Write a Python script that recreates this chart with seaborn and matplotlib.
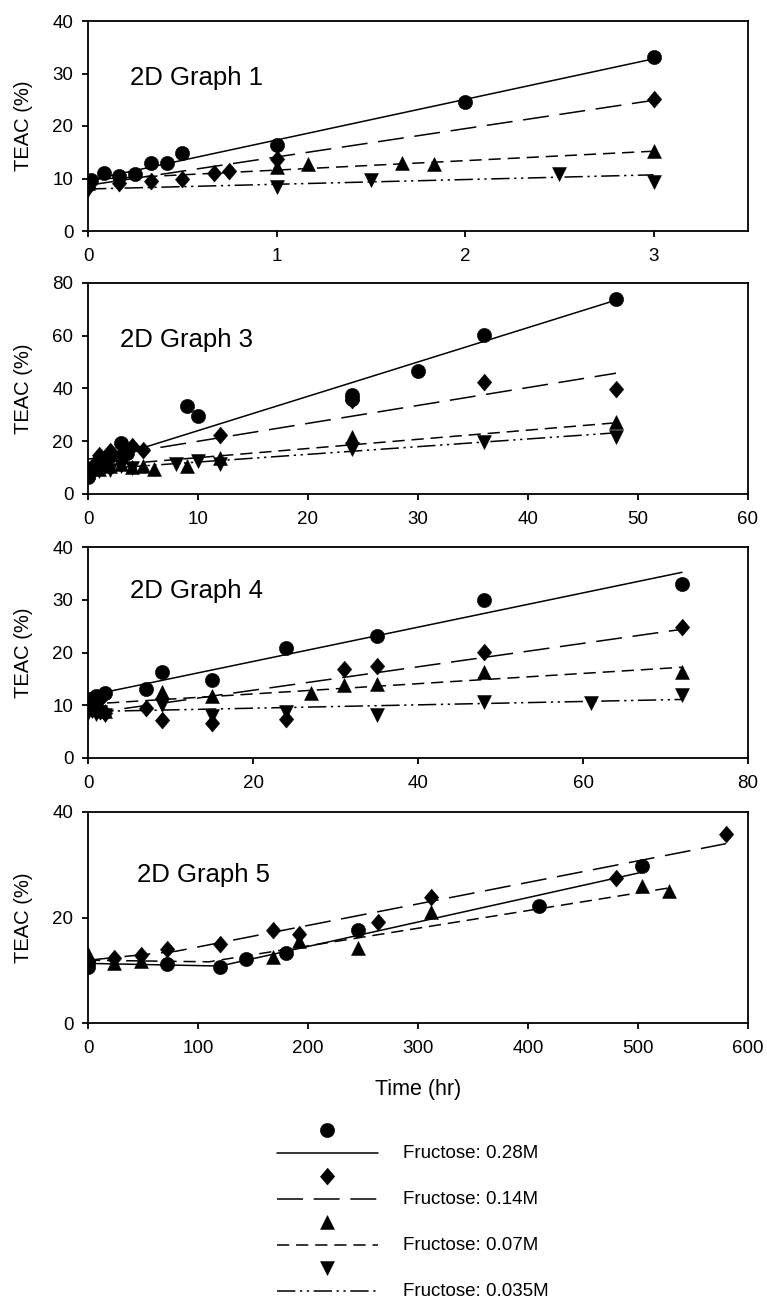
import matplotlib
matplotlib.use("Agg")
import matplotlib.pyplot as plt
import seaborn as sns

# =============================================================================
# data
# =============================================================================
# 2D Graph 1
g1_t_028 = [0, 0.0167, 0.083, 0.167, 0.25, 0.333, 0.417, 0.5, 1, 2, 3]
g1_v_028 = [8.9, 9.8, 11.0, 10.5, 10.9, 12.9, 12.9, 14.8, 16.4, 24.5, 33.2]
g1_t_014 = [0, 0.167, 0.333, 0.5, 0.667, 0.75, 1, 3]
g1_v_014 = [8.4, 9.2, 9.5, 9.9, 11.0, 11.5, 13.7, 25.2]
g1_t_007 = [0, 1, 1.167, 1.667, 1.833, 3]
g1_v_007 = [9.2, 12.1, 12.7, 13.0, 12.8, 15.3]
g1_t_0035 = [0, 0.167, 1, 1.5, 2.5, 3]
g1_v_0035 = [7.8, 8.9, 8.3, 9.7, 10.9, 9.4]
g1_fit_x = [0, 3]
g1_fit_028 = [9.6, 32.8]
g1_fit_014 = [8.7, 24.9]
g1_fit_007 = [9.8, 15.2]
g1_fit_0035 = [8.0, 10.7]

# 2D Graph 3
g3_t_028 = [0, 0.5, 1, 1.5, 2, 3, 3.5, 9, 10, 24, 24, 30, 36, 48]
g3_v_028 = [6.5, 9.5, 10.5, 12.0, 14.5, 19.3, 15.5, 33.2, 29.6, 37.5, 36.2, 46.5, 60.3, 74.0]
g3_t_014 = [0, 0.5, 1, 2, 3, 4, 5, 12, 24, 36, 48]
g3_v_014 = [9.5, 11.5, 14.8, 16.2, 15.0, 18.3, 16.8, 22.4, 35.5, 42.3, 39.8]
g3_t_007 = [0, 1, 2, 3, 4, 5, 6, 9, 12, 24, 48]
g3_v_007 = [8.5, 9.5, 10.5, 11.5, 10.3, 10.6, 9.3, 10.7, 13.6, 21.6, 27.2]
g3_t_0035 = [0, 1, 2, 3, 4, 8, 10, 12, 24, 36, 48]
g3_v_0035 = [8.2, 8.8, 9.0, 10.8, 9.9, 11.2, 12.6, 11.4, 17.0, 19.9, 21.8]
g3_fit_x = [0, 48]
g3_fit_028 = [11.0, 73.5]
g3_fit_014 = [13.2, 45.8]
g3_fit_007 = [10.3, 27.0]
g3_fit_0035 = [9.2, 23.2]

# 2D Graph 4
g4_t_028 = [0, 0.5, 1, 1.5, 2, 7, 9, 15, 24, 35, 48, 72]
g4_v_028 = [11.2, 10.5, 11.8, 11.5, 12.4, 13.1, 16.3, 14.8, 20.8, 23.2, 29.9, 33.0]
g4_t_014 = [0, 0.5, 1, 1.5, 2, 7, 9, 15, 24, 31, 35, 48, 72]
g4_v_014 = [9.8, 9.2, 10.2, 9.0, 8.5, 9.4, 7.2, 6.6, 7.4, 16.9, 17.4, 20.1, 24.9]
g4_t_007 = [0, 0.5, 1, 1.5, 2, 9, 15, 27, 31, 35, 48, 72]
g4_v_007 = [10.3, 9.8, 10.8, 9.5, 9.0, 12.6, 11.7, 12.3, 13.8, 14.0, 16.3, 16.3]
g4_t_0035 = [0, 0.5, 1, 1.5, 2, 9, 15, 24, 35, 48, 61, 72]
g4_v_0035 = [8.5, 9.0, 8.3, 8.8, 8.2, 10.0, 7.9, 8.8, 8.2, 10.7, 10.4, 12.0]
g4_fit_x = [0, 72]
g4_fit_028 = [11.8, 35.2]
g4_fit_014 = [8.4, 24.4]
g4_fit_007 = [10.2, 17.2]
g4_fit_0035 = [8.8, 11.1]

# 2D Graph 5 (no 0.035M series)
g5_t_028 = [0, 0, 72, 120, 144, 180, 245, 410, 504]
g5_v_028 = [10.6, 11.4, 11.1, 10.7, 12.1, 13.2, 17.6, 22.2, 29.8]
g5_t_014 = [0, 24, 48, 72, 120, 168, 192, 264, 312, 480, 580]
g5_v_014 = [11.8, 12.4, 12.8, 14.0, 15.0, 17.6, 16.8, 19.1, 23.8, 27.4, 35.9]
g5_t_007 = [0, 24, 48, 168, 192, 245, 312, 504, 528]
g5_v_007 = [13.1, 11.3, 11.7, 12.5, 15.6, 14.2, 21.0, 26.0, 25.0]
g5_fitx_028 = [0, 120, 504]
g5_fit_028 = [11.3, 10.8, 28.6]
g5_fitx_014 = [0, 80, 580]
g5_fit_014 = [11.9, 13.6, 34.0]
g5_fitx_007 = [0, 110, 528]
g5_fit_007 = [11.9, 11.6, 25.6]

labels = ["Fructose: 0.28M", "Fructose: 0.14M", "Fructose: 0.07M", "Fructose: 0.035M"]

# =============================================================================
# styles
# =============================================================================
diamond = [(0, 1), (0.85, 0), (0, -1), (-0.85, 0)]
markers = ["o", diamond, "^", "v"]
sizes = [105, 150, 100, 100]
styles = ["-", (0, (17, 7)), (0, (8, 4.5)), (0, (12, 3, 1.5, 3, 1.5, 3))]

sns.set_theme(style="ticks")
plt.rcParams["font.family"] = ["Liberation Sans", "DejaVu Sans"]
plt.rcParams["text.color"] = "black"
plt.rcParams["axes.labelcolor"] = "black"
plt.rcParams["axes.linewidth"] = 1.3
plt.rcParams["xtick.major.width"] = 1.3
plt.rcParams["ytick.major.width"] = 1.3
plt.rcParams["xtick.major.size"] = 4.5
plt.rcParams["ytick.major.size"] = 4.5
plt.rcParams["xtick.major.pad"] = 8
plt.rcParams["ytick.major.pad"] = 6
plt.rcParams["xtick.labelsize"] = 13.5
plt.rcParams["ytick.labelsize"] = 13.5
plt.rcParams["xtick.color"] = "black"
plt.rcParams["ytick.color"] = "black"
plt.rcParams["axes.edgecolor"] = "black"

fig = plt.figure(figsize=(7.67, 13.04), dpi=100)
W, H = 767, 1304


def rect(top, bot):
    return [88 / W, 1 - bot / H, 660 / W, (bot - top) / H]


def panel(ax, pts, fits, title, tpos, xlim, xticks, ylim, yticks):
    for i, (t, v) in enumerate(pts):
        sns.scatterplot(x=t, y=v, marker=markers[i], s=sizes[i], color="black",
                        edgecolor="black", linewidth=0.4, ax=ax, zorder=3)
    for i, (fx, fy) in enumerate(fits):
        sns.lineplot(x=fx, y=fy, color="black", lw=1.1, linestyle=styles[i], ax=ax)
    ax.set_xlim(*xlim)
    ax.set_ylim(*ylim)
    ax.set_xticks(xticks)
    ax.set_yticks(yticks)
    ax.set_ylabel("TEAC (%)", fontsize=14.5)
    ax.yaxis.set_label_coords(-0.083, 0.5)
    ax.text(tpos[0], tpos[1], title, transform=ax.transAxes, fontsize=18.5,
            ha="left", va="center")


ax1 = fig.add_axes(rect(21, 231))
panel(ax1,
      [(g1_t_028, g1_v_028), (g1_t_014, g1_v_014), (g1_t_007, g1_v_007), (g1_t_0035, g1_v_0035)],
      [(g1_fit_x, g1_fit_028), (g1_fit_x, g1_fit_014), (g1_fit_x, g1_fit_007), (g1_fit_x, g1_fit_0035)],
      "2D Graph 1", (0.064, 0.73), (0, 3.5), [0, 1, 2, 3], (0, 40), [0, 10, 20, 30, 40])

ax2 = fig.add_axes(rect(283, 494))
panel(ax2,
      [(g3_t_028, g3_v_028), (g3_t_014, g3_v_014), (g3_t_007, g3_v_007), (g3_t_0035, g3_v_0035)],
      [(g3_fit_x, g3_fit_028), (g3_fit_x, g3_fit_014), (g3_fit_x, g3_fit_007), (g3_fit_x, g3_fit_0035)],
      "2D Graph 3", (0.048, 0.73), (0, 60), [0, 10, 20, 30, 40, 50, 60], (0, 80), [0, 20, 40, 60, 80])

ax3 = fig.add_axes(rect(547, 758))
panel(ax3,
      [(g4_t_028, g4_v_028), (g4_t_014, g4_v_014), (g4_t_007, g4_v_007), (g4_t_0035, g4_v_0035)],
      [(g4_fit_x, g4_fit_028), (g4_fit_x, g4_fit_014), (g4_fit_x, g4_fit_007), (g4_fit_x, g4_fit_0035)],
      "2D Graph 4", (0.064, 0.79), (0, 80), [0, 20, 40, 60, 80], (0, 40), [0, 10, 20, 30, 40])

ax4 = fig.add_axes(rect(812, 1023))
panel(ax4,
      [(g5_t_028, g5_v_028), (g5_t_014, g5_v_014), (g5_t_007, g5_v_007)],
      [(g5_fitx_028, g5_fit_028), (g5_fitx_014, g5_fit_014), (g5_fitx_007, g5_fit_007)],
      "2D Graph 5", (0.074, 0.70), (0, 600), [0, 100, 200, 300, 400, 500, 600], (0, 40), [0, 20, 40])

fig.text(418 / W, 1 - 1090 / H, "Time (hr)", fontsize=15.5, ha="center", va="center")

# =============================================================================
# legend (marker above the line, SigmaPlot style)
# =============================================================================
lax = fig.add_axes([0, 0, 1, 1])
lax.set_xlim(0, W)
lax.set_ylim(H, 0)
lax.axis("off")
for i, lab in enumerate(labels):
    ym = 1130 + i * 46
    yl = ym + 23
    lax.scatter([327], [ym], marker=markers[i], s=sizes[i], color="black", edgecolor="black", linewidth=0.4)
    lax.plot([277, 378], [yl, yl], color="black", lw=1.1, linestyle=styles[i])
    lax.text(403, yl, lab, fontsize=13.5, ha="left", va="center")

fig.savefig("out.png", dpi=100)
